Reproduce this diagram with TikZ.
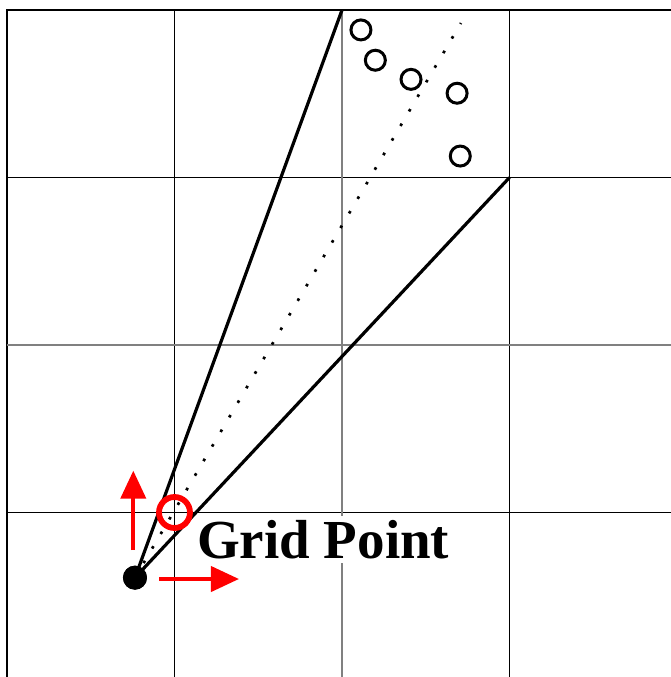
\documentclass[tikz,border=0pt]{standalone}
\usepackage{fontspec}
\setmainfont{Liberation Serif}
\usetikzlibrary{arrows.meta, positioning}
\definecolor{gridgray}{RGB}{128, 128, 128}
\definecolor{markred}{RGB}{255, 0, 0}

\begin{document}
\begin{tikzpicture}[
    x=167.5pt, y=167.5pt,
    gridline/.style={line width=1.7pt, black},
    innerline/.style={line width=1.4pt, gridgray},
    ray/.style={line width=3.2pt, black},
    midray/.style={line width=2.7pt, dash pattern=on 2.7pt off 14.2pt},
    sample/.style={circle, draw, line width=3pt, minimum size=20pt, inner sep=0pt},
    hit/.style={circle, draw=markred, line width=5.8pt, minimum size=31pt, inner sep=0pt},
    axis/.style={-{Triangle[length=28pt, width=25pt]}, line width=4pt, markred}
]
    \useasboundingbox (-0.0418,-0.982) rectangle (3.964,3.0597);

    % Grid
    \draw[gridline] (0,-0.982) -- (0,3) -- (3.964,3);
    \foreach \x in {1,3}
        \draw[gridline] (\x,-0.982) -- (\x,3);
    \foreach \y in {0,2}
        \draw[gridline] (0,\y) -- (3.964,\y);
    \draw[innerline] (2,-0.982) -- (2,3);
    \draw[innerline] (0,1) -- (3.964,1);

    % Label
    \node[anchor=base west, fill=white, inner sep=4pt,
          font=\fontsize{55}{60}\selectfont\bfseries] (label) at (1.110,-0.2716) {Grid Point};

    % Cone
    \coordinate (corner23) at (2,3);
    \coordinate (corner32) at (3,2);
    \coordinate (aim) at (2.710,2.922);
    \node[circle, fill, minimum size=24pt, inner sep=0pt] (gp) at (0.764,-0.389) {};
    \draw[ray] (gp.center) -- (corner23);
    \draw[ray] (gp.center) -- (corner32);
    \draw[midray] (gp.center) -- (aim);
    \node[circle, fill, minimum size=24pt, inner sep=0pt] at (gp) {};

    % Samples
    \node[sample] (s1) at (2.113,2.881) {};
    \node[sample] (s2) at (2.199,2.700) {};
    \node[sample] (s3) at (2.412,2.586) {};
    \node[sample] (s4) at (2.687,2.503) {};
    \node[sample] (s5) at (2.706,2.128) {};

    % Nearest grid point and axes
    \node[hit] (near) at (1,0) {};
    \coordinate (upfoot) at (0.754,-0.224);
    \coordinate (uptip) at (0.754,0.250);
    \coordinate (rightfoot) at (0.909,-0.397);
    \coordinate (righttip) at (1.385,-0.397);
    \draw[axis] (upfoot) -- (uptip);
    \draw[axis] (rightfoot) -- (righttip);
\end{tikzpicture}
\end{document}
